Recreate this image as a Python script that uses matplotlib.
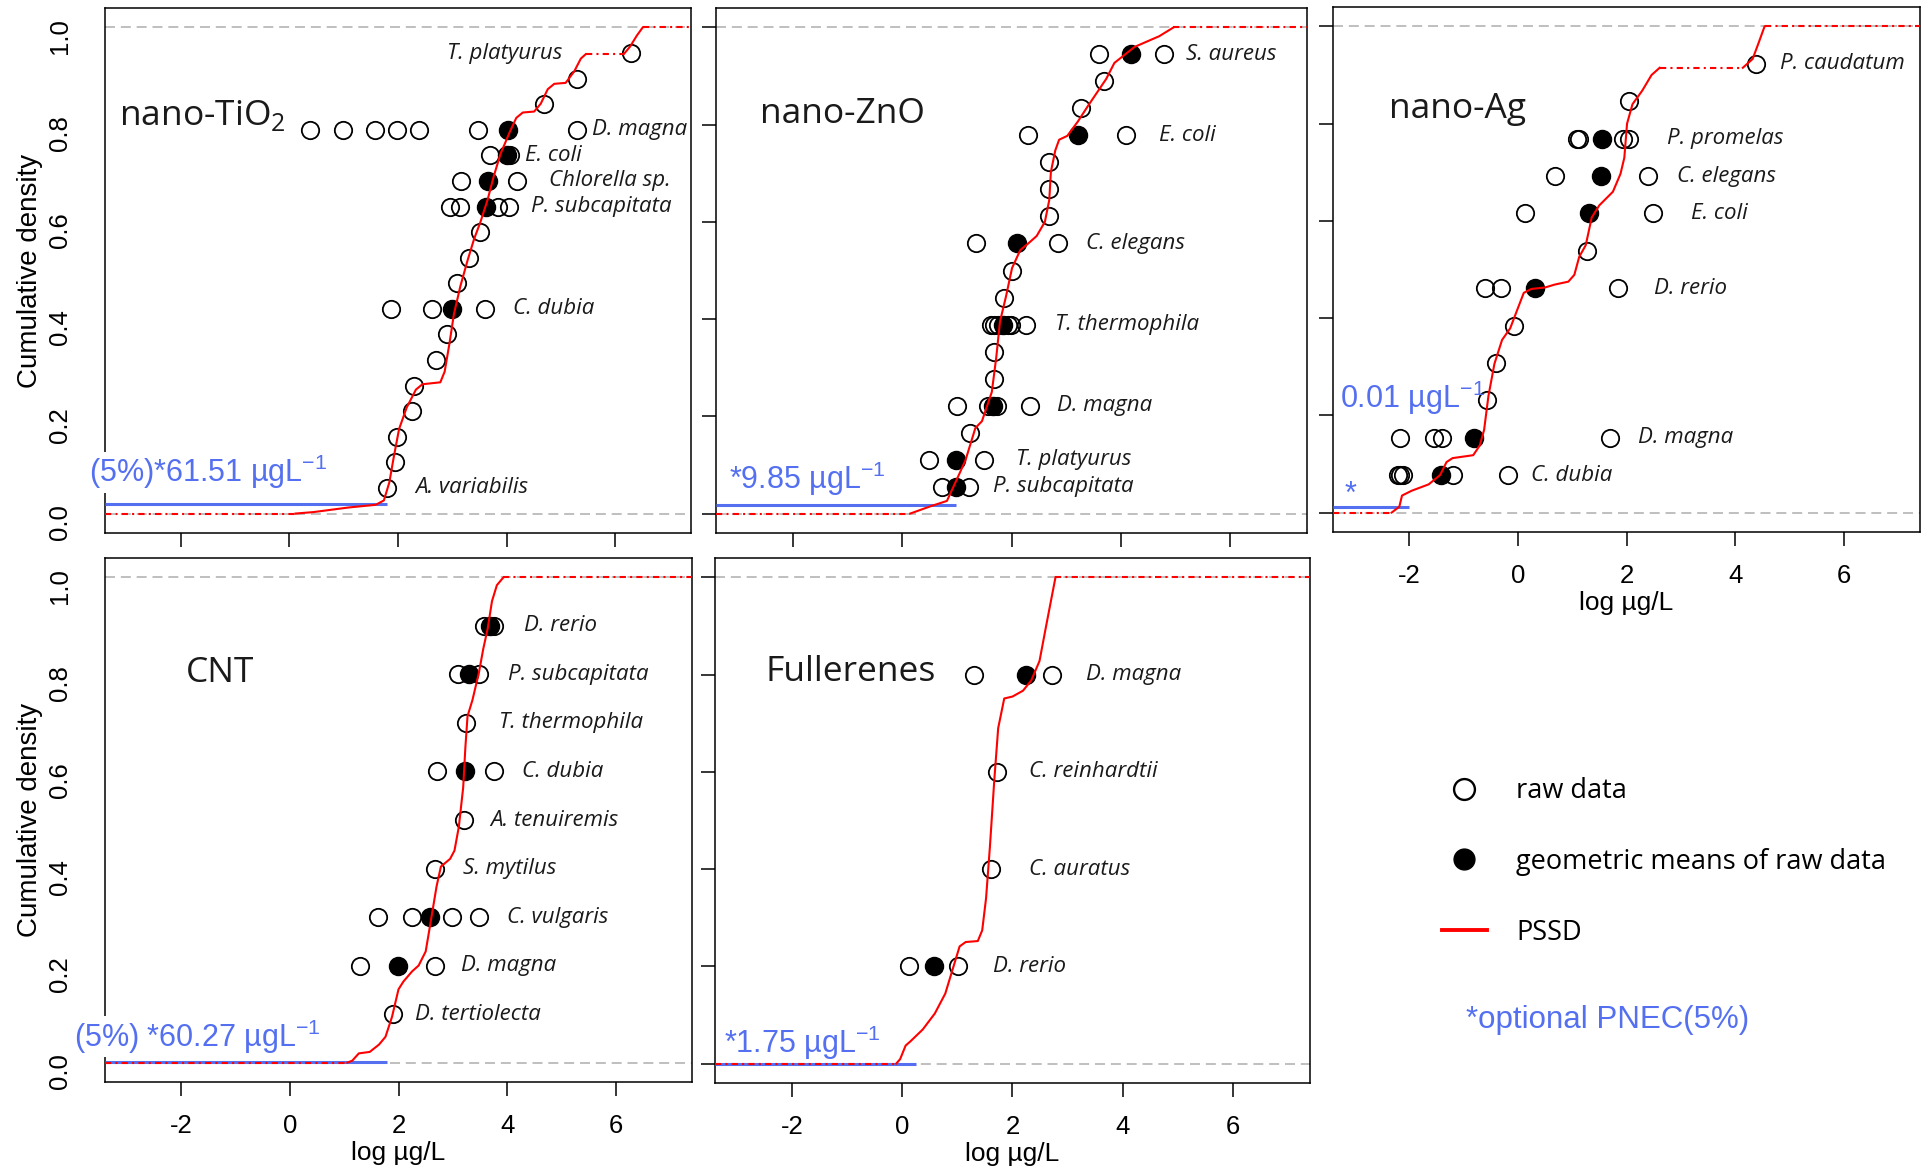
import numpy as np
import matplotlib.pyplot as plt
from matplotlib.lines import Line2D
from matplotlib.ticker import FormatStrFormatter

plt.rcParams['font.family'] = 'Liberation Sans'
plt.rcParams['axes.unicode_minus'] = False
plt.rcParams['mathtext.fontset'] = 'custom'
plt.rcParams['mathtext.rm'] = 'Liberation Sans'
plt.rcParams['mathtext.sf'] = 'Open Sans'

BLUE = '#5470f0'
NAMEFONT = 'Open Sans'
XLIM = (-3.4, 7.4)
YLIM = (-0.04, 1.04)

# ---- nano-TiO2: one row per species, log ug/L ----
tio2_species = ['A. variabilis', '', '', '', '', '', '', 'C. dubia', '', '', '',
                'P. subcapitata', 'Chlorella sp.', 'E. coli', 'D. magna', '', '', 'T. platyurus']
tio2_raw = [[1.79], [1.95], [1.99], [2.25], [2.30], [2.70], [2.90],
            [1.88, 2.62, 3.60], [3.09], [3.31], [3.51],
            [2.96, 3.14, 3.85, 4.05], [3.17, 4.19], [3.70, 4.06],
            [0.37, 0.99, 1.58, 1.99, 2.38, 3.47, 5.29], [4.69], [5.29], [6.29]]
tio2_mean = [None] * 7 + [3.00, None, None, None, 3.63, 3.66, 4.00, 4.02, None, None, None]
tio2_label_x = [2.32, None, None, None, None, None, None, 4.12, None, None, None,
                4.46, 4.79, 4.34, 5.57, None, None, 2.90]
tio2_curve_x = [0.11, 0.44, 1.09, 1.59, 1.74, 1.84, 1.92, 2.02, 2.16, 2.33, 2.45, 2.78,
                2.86, 2.95, 3.03, 3.15, 3.28, 3.40, 3.52, 3.65, 3.77, 3.89, 4.06, 4.18,
                4.30, 4.51, 4.63, 4.76, 4.88, 5.09, 5.25, 5.37, 5.46, 6.16, 6.28, 6.40, 6.51]
tio2_curve_y = [0, 0.003, 0.0125, 0.018, 0.027, 0.064, 0.115, 0.174, 0.218, 0.255, 0.266,
                0.27, 0.292, 0.351, 0.41, 0.468, 0.52, 0.564, 0.60, 0.645, 0.696, 0.74,
                0.785, 0.814, 0.825, 0.827, 0.843, 0.873, 0.884, 0.886, 0.91, 0.936,
                0.945, 0.945, 0.961, 0.983, 1.0]

# ---- nano-ZnO ----
zno_species = ['P. subcapitata', 'T. platyurus', '', 'D. magna', '', '', 'T. thermophila',
               '', '', 'C. elegans', '', '', '', 'E. coli', '', '', 'S. aureus']
zno_raw = [[0.73, 1.23], [0.49, 1.49], [1.25], [1.0, 1.57, 1.74, 2.34], [1.68], [1.68],
           [1.62, 1.68, 1.75, 1.93, 1.99, 2.27], [1.87], [2.0], [1.36, 2.85], [2.69],
           [2.69], [2.69], [2.31, 4.09], [3.27], [3.69], [3.60, 4.78]]
zno_mean = [0.99, 0.99, None, 1.66, None, None, 1.84, None, None, 2.10, None, None, None,
            3.21, None, None, 4.19]
zno_label_x = [1.66, 2.09, None, 2.84, None, None, 2.80, None, None, 3.37, None, None,
               None, 4.69, None, None, 5.19]
zno_curve_x = [0.15, 0.52, 0.82, 1.04, 1.16, 1.34, 1.46, 1.64, 1.72, 1.79, 1.90, 2.01,
               2.16, 2.31, 2.46, 2.61, 2.69, 2.72, 2.80, 2.87, 3.02, 3.21, 3.40, 3.55,
               3.73, 3.88, 4.25, 4.70, 4.96]
zno_curve_y = [0, 0.015, 0.026, 0.08, 0.11, 0.176, 0.19, 0.25, 0.32, 0.395, 0.447, 0.505,
               0.542, 0.556, 0.571, 0.60, 0.645, 0.703, 0.747, 0.769, 0.777, 0.806, 0.839,
               0.864, 0.894, 0.927, 0.96, 0.982, 1.0]

# ---- nano-Ag ----
ag_species = ['C. dubia', 'D. magna', '', '', '', 'D. rerio', '', 'E. coli', 'C. elegans',
              'P. promelas', '', 'P. caudatum']
ag_raw = [[-2.20, -2.16, -2.12, -1.20, -0.18], [-2.17, -1.55, -1.39, 1.69], [-0.56],
          [-0.41], [-0.07], [-0.61, -0.31, 1.84], [1.27], [0.14, 2.49], [0.69, 2.39],
          [1.09, 1.12, 1.93, 2.04], [2.04], [4.39]]
ag_mean = [-1.42, -0.81, None, None, None, 0.31, None, 1.31, 1.54, 1.55, None, None]
ag_label_x = [0.25, 2.21, None, None, None, 2.51, None, 3.18, 2.93, 2.74, None, 4.82]
ag_curve_x = [-2.32, -2.18, -2.13, -1.95, -1.64, -1.43, -1.31, -1.20, -0.82, -0.70,
              -0.62, -0.54, -0.43, -0.29, -0.14, 0.0, 0.11, 0.25, 0.5, 0.68, 0.93, 1.04,
              1.13, 1.25, 1.36, 1.5, 1.75, 1.89, 1.96, 2.01, 2.11, 2.29, 2.46, 2.61, 4.14,
              4.32, 4.43, 4.54]
ag_curve_y = [0, 0.012, 0.035, 0.045, 0.058, 0.077, 0.104, 0.112, 0.118, 0.138, 0.17,
              0.24, 0.306, 0.355, 0.379, 0.42, 0.452, 0.46, 0.463, 0.469, 0.475, 0.489,
              0.526, 0.55, 0.607, 0.632, 0.66, 0.697, 0.73, 0.80, 0.84, 0.868, 0.90,
              0.915, 0.915, 0.933, 0.966, 1.0]

# ---- CNT ----
cnt_species = ['D. tertiolecta', 'D. magna', 'C. vulgaris', 'S. mytilus', 'A. tenuiremis',
               'C. dubia', 'T. thermophila', 'P. subcapitata', 'D. rerio']
cnt_raw = [[1.90], [1.29, 2.68], [1.62, 2.25, 2.99, 3.48], [2.68], [3.21], [2.70, 3.76],
           [3.25], [3.09, 3.48], [3.58, 3.76]]
cnt_mean = [None, 1.99, 2.58, None, None, 3.23, None, 3.29, 3.68]
cnt_label_x = [2.31, 3.15, 3.99, 3.19, 3.68, 4.27, 3.85, 4.01, 4.30]
cnt_curve_x = [1.06, 1.15, 1.27, 1.47, 1.64, 1.76, 1.88, 2.0, 2.09, 2.25, 2.37, 2.5, 2.58,
               2.70, 2.78, 2.95, 3.03, 3.11, 3.19, 3.23, 3.27, 3.36, 3.48, 3.56, 3.64,
               3.72, 3.81, 3.93]
cnt_curve_y = [0, 0.004, 0.019, 0.022, 0.037, 0.053, 0.094, 0.151, 0.167, 0.188, 0.20,
               0.229, 0.282, 0.363, 0.404, 0.42, 0.437, 0.486, 0.567, 0.649, 0.714, 0.747,
               0.804, 0.853, 0.894, 0.951, 0.984, 1.0]

# ---- Fullerenes ----
ful_species = ['D. rerio', 'C. auratus', 'C. reinhardtii', 'D. magna']
ful_raw = [[0.12, 1.01], [1.61], [1.71], [1.30, 2.71]]
ful_mean = [0.57, None, None, 2.24]
ful_label_x = [1.65, 2.30, 2.30, 3.34]
ful_curve_x = [-0.11, -0.04, 0.06, 0.15, 0.37, 0.59, 0.78, 0.93, 1.04, 1.15, 1.37, 1.45,
               1.52, 1.59, 1.67, 1.74, 1.85, 2.0, 2.19, 2.34, 2.49, 2.60, 2.71, 2.78]
ful_curve_y = [0, 0.009, 0.037, 0.046, 0.07, 0.103, 0.144, 0.2, 0.241, 0.25, 0.252, 0.274,
               0.34, 0.446, 0.584, 0.69, 0.751, 0.755, 0.767, 0.788, 0.828, 0.894, 0.959,
               1.0]

# PNEC (5%) values in ug/L, and the level of the blue marker line
pnec_ugL = [61.51, 9.85, 0.01, 60.27, 1.75]
pnec_prefix = ['(5%)*', '*', '', '(5%) *', '*']
pnec_level = [0.02, 0.018, 0.011, 0.002, 0.0]


def draw_curve(ax, cx, cy):
    # extend the PSSD flat to both plot edges; flat stretches drawn dotted
    cx = np.concatenate([[XLIM[0]], cx, [XLIM[1]]])
    cy = np.concatenate([[cy[0]], cy, [cy[-1]]])
    flat = cy[1:] == cy[:-1]
    start = 0
    for i in range(1, len(flat) + 1):
        if i == len(flat) or flat[i] != flat[start]:
            ls = (0, (3, 2, 1, 2)) if flat[start] else '-'
            ax.plot(cx[start:i + 1], cy[start:i + 1], color='red', lw=1.5, ls=ls,
                    zorder=5, solid_joinstyle='round')
            start = i


def draw_panel(ax, title, species, raw, means, label_x, cx, cy, k, title_xy,
               pnec_xy, pnec_box=False):
    n = len(species)
    ypos = np.arange(1, n + 1) / (n + 1)
    for yl in (0, 1):
        ax.axhline(yl, color='#b4b4b4', lw=1.2, ls=(0, (6, 3.5)), zorder=1)
    for y, vals, m in zip(ypos, raw, means):
        ax.plot(vals, [y] * len(vals), ls='none', marker='o', mfc='none', mec='black',
                ms=12.5, mew=1.3, zorder=3)
        if m is not None:
            ax.plot([m], [y], ls='none', marker='o', mfc='black', mec='black', ms=13,
                    zorder=4)
    for y, name, lx in zip(ypos, species, label_x):
        if lx is not None:
            ax.text(lx, y, name, fontsize=16, style='italic', family=NAMEFONT,
                    color='#1a1a1a', ha='left', va='center', zorder=6)
    draw_curve(ax, np.asarray(cx), np.asarray(cy))

    # blue PNEC line and value
    ax.hlines(pnec_level[k], XLIM[0], np.log10(pnec_ugL[k]), color=BLUE, lw=2.2,
              zorder=4.5)
    txt = pnec_prefix[k] + '{:.2f} µgL$^{{-1}}$'.format(pnec_ugL[k])
    bbox = dict(fc='white', ec='none', pad=1) if pnec_box else None
    ax.text(pnec_xy[0], pnec_xy[1], txt, color=BLUE, fontsize=22, va='baseline',
            ha='left', zorder=7, bbox=bbox)

    ax.text(title_xy[0], title_xy[1], title, fontsize=25.5, family=NAMEFONT,
            color='#1a1a1a', va='baseline', ha='left')

    ax.set_xlim(XLIM)
    ax.set_ylim(YLIM)
    ax.set_xticks([-2, 0, 2, 4, 6])
    ax.set_yticks([0, 0.2, 0.4, 0.6, 0.8, 1.0])
    ax.yaxis.set_major_formatter(FormatStrFormatter('%.1f'))
    ax.tick_params(axis='x', length=10, width=1.1, pad=13, labelsize=18.5)
    ax.tick_params(axis='y', length=10, width=1.1, labelsize=18.5, labelrotation=90)
    for s in ax.spines.values():
        s.set_linewidth(1.1)


W, H = 1929, 1171
fig = plt.figure(figsize=(W / 100, H / 100), dpi=100)


def add_panel(left, top, right, bottom):
    return fig.add_axes([left / W, 1 - bottom / H, (right - left) / W, (bottom - top) / H])


ax1 = add_panel(105, 8, 691, 533)
ax2 = add_panel(716, 8, 1307, 533)
ax3 = add_panel(1333, 7, 1920, 532)
ax4 = add_panel(105, 558, 692, 1082)
ax5 = add_panel(715, 558, 1310, 1083)

draw_panel(ax1, 'nano-TiO$_\\mathsf{2}$', tio2_species, tio2_raw, tio2_mean, tio2_label_x,
           tio2_curve_x, tio2_curve_y, 0, (-3.15, 0.80), (-3.69, 0.064), pnec_box=True)
draw_panel(ax2, 'nano-ZnO', zno_species, zno_raw, zno_mean, zno_label_x,
           zno_curve_x, zno_curve_y, 1, (-2.60, 0.804), (-3.17, 0.051))
draw_panel(ax3, 'nano-Ag', ag_species, ag_raw, ag_mean, ag_label_x,
           ag_curve_x, ag_curve_y, 2, (-2.37, 0.811), (-3.27, 0.216))
ax3.text(-3.07, 0.02, '*', color=BLUE, fontsize=22, va='baseline', ha='center')
draw_panel(ax4, 'CNT', cnt_species, cnt_raw, cnt_mean, cnt_label_x,
           cnt_curve_x, cnt_curve_y, 3, (-1.92, 0.784), (-3.97, 0.033), pnec_box=True)
draw_panel(ax5, 'Fullerenes', ful_species, ful_raw, ful_mean, ful_label_x,
           ful_curve_x, ful_curve_y, 4, (-2.49, 0.786), (-3.23, 0.021))

# axis labels only on the outer panels
for ax in (ax1, ax2):
    ax.tick_params(axis='x', labelbottom=False)
for ax in (ax2, ax3, ax5):
    ax.tick_params(axis='y', labelleft=False)
for ax in (ax1, ax4):
    ax.tick_params(axis='y', length=0, pad=24)
    ax.set_ylabel('Cumulative density', fontsize=20)
    ax.yaxis.set_label_coords(-0.105, 0.5)
for ax in (ax3, ax4, ax5):
    ax.set_xlabel('log µg/L', fontsize=19)
    ax.xaxis.set_label_coords(0.5, -0.113)

handles = [Line2D([], [], ls='none', marker='o', mfc='none', mec='black', ms=15, mew=1.7),
           Line2D([], [], ls='none', marker='o', mfc='black', mec='black', ms=15),
           Line2D([], [], color='red', lw=2.8)]
fig.legend(handles, ['raw data', 'geometric means of raw data', 'PSSD'],
           loc='upper left', bbox_to_anchor=(1442 / W, 1 - 777 / H), frameon=False,
           prop={'family': NAMEFONT, 'size': 19.5}, handlelength=1.65,
           handletextpad=1.1, labelspacing=1.58, borderaxespad=0, borderpad=0)
fig.text(1466 / W, 1 - 1020 / H, '*optional PNEC(5%)', color=BLUE, fontsize=22.5,
         va='center', ha='left')

fig.savefig('out.png', dpi=100, facecolor='white')
